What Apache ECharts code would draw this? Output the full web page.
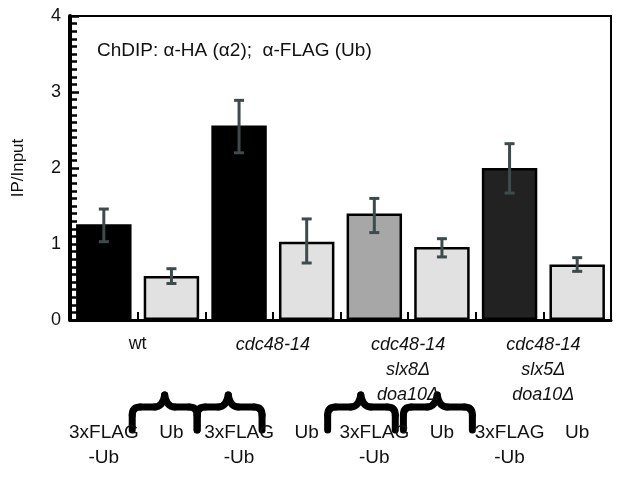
<!DOCTYPE html>
<html>
<head>
<meta charset="utf-8">
<script src="https://cdn.jsdelivr.net/npm/echarts@6/dist/echarts.min.js"></script>
<style>html,body{margin:0;padding:0;background:#fff;}#c{width:626px;height:477px;}</style>
</head>
<body>
<div id="c"></div>
<script>
// ---- data ----
const categories = ['3xFLAG\n-Ub', 'Ub', '3xFLAG\n-Ub', 'Ub', '3xFLAG\n-Ub', 'Ub', '3xFLAG\n-Ub', 'Ub'];
const groups = ['wt', 'cdc48-14', 'cdc48-14\nslx8Δ\ndoa10Δ', 'cdc48-14\nslx5Δ\ndoa10Δ'];
const values = [1.26, 0.58, 2.56, 1.03, 1.40, 0.96, 2.00, 0.73];
const errHigh = [1.46, 0.675, 2.89, 1.33, 1.60, 1.07, 2.32, 0.82];
const errLow = [1.03, 0.48, 2.20, 0.75, 1.15, 0.83, 1.67, 0.64];
const yTicks = [0, 1, 2, 3, 4];

// ---- styles ----
const fills = ['#000000', '#e1e1e1', '#000000', '#e1e1e1', '#a7a7a7', '#e1e1e1', '#222222', '#e1e1e1'];
const FONT = '"Liberation Sans", Arial, sans-serif';
const G = {left: 70, right: 15, top: 16, bottom: 157};
const W = 626, H = 477;

const chart = echarts.init(document.getElementById('c'), null, {renderer: 'canvas'});

// brace layout (slot units along the category axis)
const braceSlots = [[0.92, 1.40, 1.88], [1.88, 2.34, 2.84], [3.81, 4.30, 4.81], [4.93, 5.43, 5.95]];
const gw = W - G.left - G.right, slot = gw / categories.length;
function brace(s) {
  const xl = G.left + s[0] * slot, xm = G.left + s[1] * slot, xr = G.left + s[2] * slot;
  const yt = 395, yh = 407, yb = 430;
  const st = {stroke: '#000', lineWidth: 7, fill: null, lineCap: 'round'};
  const L = function (a, b, c, d) { return {type: 'line', shape: {x1: a, y1: b, x2: c, y2: d}, style: st}; };
  const B = function (a, b, c, d, e, f) { return {type: 'bezierCurve', shape: {x1: a, y1: b, x2: c, y2: d, cpx1: e, cpy1: f}, style: st}; };
  return {type: 'group', z: 10, children: [
    L(xl, yb, xl, yh + 8),
    B(xl, yh + 8, xl + 8, yh, xl, yh),
    L(xl + 8, yh, xm - 10, yh),
    B(xm - 10, yh, xm, yt, xm - 2, yh),
    B(xm, yt, xm + 10, yh, xm + 2, yh),
    L(xm + 10, yh, xr - 8, yh),
    B(xr - 8, yh, xr, yh + 8, xr, yh),
    L(xr, yh + 8, xr, yb)
  ]};
}

const option = {
  animation: false,
  backgroundColor: '#fff',
  textStyle: {fontFamily: FONT},
  title: {
    text: 'ChDIP: α-HA (α2);  α-FLAG (Ub)',
    left: 92, top: 36,
    textStyle: {fontSize: 19, fontWeight: 'normal', color: '#111', fontFamily: FONT}
  },
  grid: {left: G.left, right: G.right, top: G.top, bottom: G.bottom, show: true, borderColor: '#000', borderWidth: 2, backgroundColor: 'transparent'},
  xAxis: [{
    type: 'category',
    data: categories,
    axisLine: {lineStyle: {color: '#000', width: 3}},
    axisTick: {show: true, inside: true, length: 8, lineStyle: {color: '#000', width: 2}},
    axisLabel: {margin: 100, fontSize: 19, lineHeight: 25, color: '#111', fontFamily: FONT, interval: 0}
  }, {
    type: 'category',
    data: groups,
    position: 'bottom',
    axisLine: {show: false},
    axisTick: {show: false},
    axisLabel: {margin: 12, fontSize: 18, lineHeight: 25, color: '#111', fontStyle: 'italic', fontFamily: FONT, interval: 0,
      formatter: function (v, i) { return i === 0 ? '{n|' + v + '}' : v; },
      rich: {n: {fontStyle: 'normal', fontSize: 18, fontFamily: FONT, color: '#111'}}}
  }],
  yAxis: {
    type: 'value',
    min: yTicks[0], max: yTicks[yTicks.length - 1], interval: 1,
    name: 'IP/Input', nameLocation: 'middle', nameGap: 43,
    nameTextStyle: {fontSize: 17, color: '#111', fontFamily: FONT},
    axisLine: {show: true, lineStyle: {color: '#000', width: 4}},
    axisTick: {show: true, inside: true, length: 9, lineStyle: {color: '#000', width: 2.5}},
    minorTick: {show: true, splitNumber: 10, length: 7, lineStyle: {color: '#000', width: 2.5}},
    axisLabel: {fontSize: 18, color: '#111', margin: 9, fontFamily: FONT},
    splitLine: {show: false}
  },
  series: [{
    type: 'bar',
    xAxisIndex: 0,
    barWidth: '82%',
    data: values.map(function (v, i) {
      return {value: v, itemStyle: {color: fills[i], borderColor: '#000', borderWidth: 2.5}};
    }),
    z: 2
  }, {
    type: 'custom',
    xAxisIndex: 0,
    z: 5,
    data: values.map(function (v, i) { return [i, errHigh[i], errLow[i]]; }),
    renderItem: function (params, api) {
      const hi = api.coord([api.value(0), api.value(1)]);
      const lo = api.coord([api.value(0), api.value(2)]);
      const x = hi[0], cw = 5;
      const st = {stroke: '#3e4b4c', lineWidth: 3};
      return {type: 'group', children: [
        {type: 'line', shape: {x1: x, y1: hi[1], x2: x, y2: lo[1]}, style: st},
        {type: 'line', shape: {x1: x - cw, y1: hi[1], x2: x + cw, y2: hi[1]}, style: st},
        {type: 'line', shape: {x1: x - cw, y1: lo[1], x2: x + cw, y2: lo[1]}, style: st}
      ]};
    }
  }],
  graphic: braceSlots.map(brace)
};
chart.setOption(option);
</script>
</body>
</html>
